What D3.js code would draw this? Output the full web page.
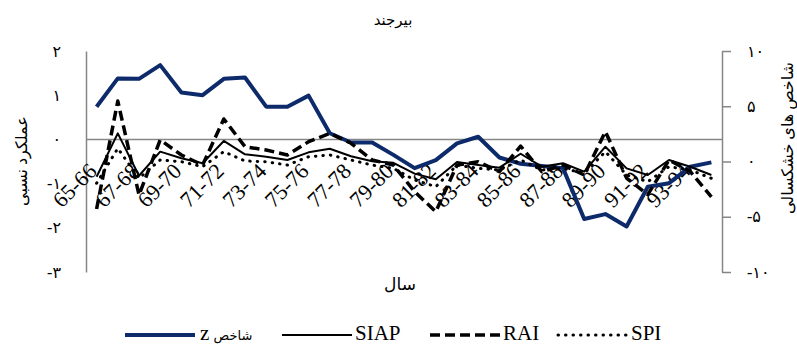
<!DOCTYPE html>
<html>
<head>
<meta charset="utf-8">
<script src="https://cdnjs.cloudflare.com/ajax/libs/d3/7.8.5/d3.min.js"></script>
<style>
  body { margin: 0; background: #fff; }
  svg text { font-family: "Liberation Serif", "Times New Roman", "DejaVu Sans", serif; }
  .axis path, .axis line { stroke: #868686; stroke-width: 1.5; }
  .axis text { font-size: 16px; fill: #000; }
  .xlab text { font-size: 22px; fill: #000; }
</style>
</head>
<body>
<script>
// Years on the category axis (every other one gets a label)
var years = ["65-66", "66-67", "67-68", "68-69", "69-70", "70-71", "71-72", "72-73",
  "73-74", "74-75", "75-76", "76-77", "77-78", "78-79", "79-80", "80-81", "81-82",
  "82-83", "83-84", "84-85", "85-86", "86-87", "87-88", "88-89", "89-90", "90-91",
  "91-92", "92-93", "93-94", "94-95"];

// Relative yield (z index), left axis
var zIndex = [0.74, 1.38, 1.37, 1.68, 1.06, 1.00, 1.37, 1.40, 0.74, 0.74, 0.99, 0.14,
  -0.07, -0.07, -0.35, -0.65, -0.47, -0.09, 0.06, -0.41, -0.55, -0.60, -0.65, -1.80,
  -1.69, -1.97, -1.07, -0.99, -0.62, -0.52];

// Drought indices, right axis
var siap = [-1.38, 2.55, -1.29, 0.89, 0.29, -0.16, 1.86, 0.65, 0.43, 0.14, 0.83, 1.15,
  0.48, 0.02, -0.12, -1.1, -1.6, -0.05, -0.32, -0.56, 0.7, -0.47, -0.16, -0.92, 1.34,
  -0.62, -1.22, 0.14, -0.47, -1.22];
var rai = [-4.3, 5.47, -3.03, 1.95, 0.59, -0.32, 3.85, 1.34, 1.04, 0.59, 1.79, 2.55,
  1.65, 0.14, -0.32, -2.73, -4.54, -0.32, -0.02, -0.92, 1.4, -0.92, -0.32, -1.22, 2.7,
  -1.5, -3.0, 0.14, -0.9, -3.2];
var spi = [-1.97, 1.19, -1.52, 0.14, -0.02, -0.47, 0.89, 0.05, -0.02, -0.32, 0.43, 0.59,
  0.14, -0.32, -0.62, -1.67, -2.28, -0.32, -0.62, -0.77, 0.14, -0.77, -0.62, -1.07, 0.89,
  -1.22, -1.83, -0.47, -0.77, -1.52];

// Tick values and their Persian labels
var leftTicks = [2, 1, 0, -1, -2, -3];
var leftTickLabels = ["۲", "۱", "۰", "-۱", "-۲", "-۳"];
var rightTicks = [10, 5, 0, -5, -10];
var rightTickLabels = ["۱۰", "۵", "۰", "-۵", "-۱۰"];

// Legend names
var seriesNames = ["شاخص z", "SIAP", "RAI", "SPI"];

// SVG area
var svgWidth = 797;
var svgHeight = 344;

var margin = { top: 51, right: 75, bottom: 72, left: 86 };
var chartWidth = svgWidth - margin.left - margin.right;
var chartHeight = svgHeight - margin.top - margin.bottom;

var svg = d3.select("body")
  .append("svg")
  .attr("width", svgWidth)
  .attr("height", svgHeight);

var chartGroup = svg.append("g")
  .attr("transform", "translate(" + margin.left + ", " + margin.top + ")");

// Scales
var xScale = d3.scalePoint().domain(years).range([0, chartWidth]).padding(0.5);
var yLeft = d3.scaleLinear().domain([-3, 2]).range([chartHeight, 0]);
var yRight = d3.scaleLinear().domain([-10, 10]).range([chartHeight, 0]);

// Zero line of the left axis
chartGroup.append("line")
  .attr("x1", 0).attr("x2", chartWidth)
  .attr("y1", yLeft(0)).attr("y2", yLeft(0))
  .attr("stroke", "#868686")
  .attr("stroke-width", 1.5);

// Left axis
var leftAxis = d3.axisLeft(yLeft)
  .tickValues(leftTicks)
  .tickSize(0)
  .tickPadding(25)
  .tickFormat(function (d, i) { return leftTickLabels[i]; });

chartGroup.append("g")
  .attr("class", "axis")
  .call(leftAxis);

// Right axis
var rightAxis = d3.axisRight(yRight)
  .tickValues(rightTicks)
  .tickSize(9)
  .tickSizeOuter(0)
  .tickPadding(16)
  .tickFormat(function (d, i) { return rightTickLabels[i]; });

chartGroup.append("g")
  .attr("class", "axis")
  .attr("transform", "translate(" + chartWidth + ", 0)")
  .call(rightAxis);

// Category labels, rotated, hung below the right-axis zero
var bottomAxis = d3.axisBottom(xScale)
  .tickValues(years.filter(function (d, i) { return i % 2 === 0; }))
  .tickSize(0);

var xg = chartGroup.append("g")
  .attr("class", "xlab")
  .attr("font-family", null)
  .attr("transform", "translate(0, " + yRight(0) + ")")
  .call(bottomAxis);
xg.select(".domain").remove();
xg.selectAll("text")
  .attr("x", 0).attr("y", 0).attr("dy", 0)
  .attr("text-anchor", "end")
  .attr("transform", "translate(1, 11) rotate(-45)");

// Line generators
function makeLine(yScale) {
  return d3.line()
    .x(function (d, i) { return xScale(years[i]); })
    .y(function (d) { return yScale(d); });
}

var styles = [
  { color: "#0d2a6b", width: 4, dash: null, cap: "butt" },
  { color: "#000", width: 2, dash: null, cap: "butt" },
  { color: "#000", width: 3.5, dash: "10,5", cap: "butt" },
  { color: "#000", width: 3, dash: "0.5,7", cap: "round" }
];

var seriesList = [
  { values: zIndex, scale: yLeft },
  { values: siap, scale: yRight },
  { values: rai, scale: yRight },
  { values: spi, scale: yRight }
];

seriesList.forEach(function (s, k) {
  chartGroup.append("path")
    .attr("d", makeLine(s.scale)(s.values))
    .attr("fill", "none")
    .attr("stroke", styles[k].color)
    .attr("stroke-width", styles[k].width)
    .attr("stroke-dasharray", styles[k].dash)
    .attr("stroke-linecap", styles[k].cap)
    .attr("stroke-linejoin", "round");
});

// Title
svg.append("text")
  .attr("x", 393).attr("y", 25)
  .attr("text-anchor", "middle")
  .style("font-size", "15px")
  .text("بیرجند");

// Axis titles
svg.append("text")
  .attr("transform", "translate(27, 161) rotate(-90)")
  .attr("text-anchor", "middle")
  .style("font-size", "16px")
  .text("عملکرد نسبی");

svg.append("text")
  .attr("transform", "translate(793, 138) rotate(-90)")
  .attr("text-anchor", "middle")
  .style("font-size", "16px")
  .text("شاخص های خشکسالی");

svg.append("text")
  .attr("x", 400).attr("y", 290)
  .attr("text-anchor", "middle")
  .style("font-size", "17px")
  .text("سال");

// Legend
var legendX = [125, 282, 430, 558];
var legend = svg.append("g");
seriesNames.forEach(function (name, k) {
  legend.append("line")
    .attr("x1", legendX[k]).attr("x2", legendX[k] + 70)
    .attr("y1", 335).attr("y2", 335)
    .attr("stroke", styles[k].color)
    .attr("stroke-width", styles[k].width)
    .attr("stroke-dasharray", styles[k].dash)
    .attr("stroke-linecap", styles[k].cap);
  if (k === 0) {
    // Persian word in a smaller size, latin letter on its left
    var parts = name.split(" ");
    legend.append("text")
      .attr("x", 200).attr("y", 340)
      .style("font-size", "21px")
      .text(parts[1]);
    legend.append("text")
      .attr("x", 233).attr("y", 340)
      .attr("text-anchor", "middle")
      .style("font-size", "13px")
      .text(parts[0]);
  } else {
    legend.append("text")
      .attr("x", legendX[k] + 73).attr("y", 340)
      .style("font-size", "21px")
      .text(name);
  }
});
</script>
</body>
</html>
